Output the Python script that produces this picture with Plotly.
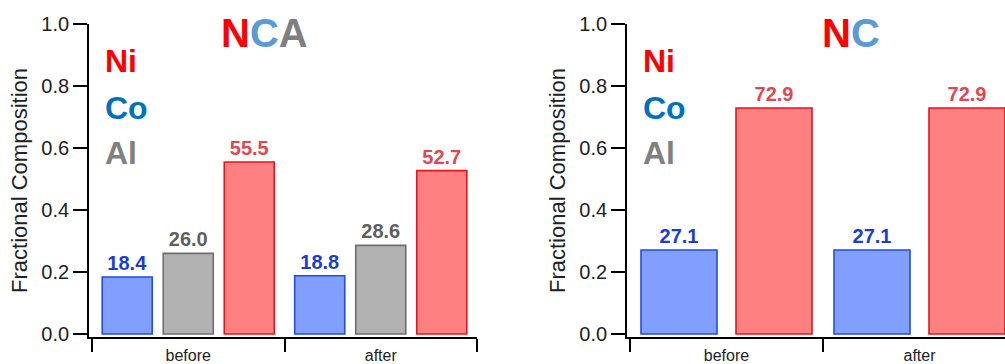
import plotly.graph_objects as go
from plotly.subplots import make_subplots

# ---- data -------------------------------------------------------------
stages = ["before", "after"]

nca_co = [18.4, 18.8]
nca_al = [26.0, 28.6]
nca_ni = [55.5, 52.7]

nc_co = [27.1, 27.1]
nc_ni = [72.9, 72.9]

y_ticks = [0.0, 0.2, 0.4, 0.6, 0.8, 1.0]

# ---- styling ----------------------------------------------------------
W, H = 1005, 364
FONT = "Liberation Sans, Arial, sans-serif"

STYLE = {
    "Co": dict(fill="rgb(128,159,255)", edge="rgb(35,75,230)", text="rgb(25,60,215)"),
    "Al": dict(fill="rgb(178,178,178)", edge="rgb(110,110,110)", text="rgb(95,95,95)"),
    "Ni": dict(fill="rgb(255,128,128)", edge="rgb(230,20,30)", text="rgb(228,70,80)"),
}


def px_x(p):
    return p / W


def px_y(p):
    return 1 - p / H


def bar(name, values):
    s = STYLE[name]
    return go.Bar(
        x=stages,
        y=[v / 100 for v in values],
        text=[f"{v:.1f}" for v in values],
        textposition="outside",
        constraintext="none",
        cliponaxis=False,
        textfont=dict(family=FONT, size=20, color=s["text"], weight="bold"),
        marker=dict(color=s["fill"], line=dict(color=s["edge"], width=1.6)),
        name=name,
        showlegend=False,
        hoverinfo="skip",
    )


fig = make_subplots(rows=1, cols=2)

for name, vals in [("Co", nca_co), ("Al", nca_al), ("Ni", nca_ni)]:
    fig.add_trace(bar(name, vals), row=1, col=1)
for name, vals in [("Co", nc_co), ("Ni", nc_ni)]:
    fig.add_trace(bar(name, vals), row=1, col=2)

# plot areas (pixel extents of the axes)
top_px, bottom_px = 24, 337
left_panel = (89, 477)
right_panel = (627, 1005)

axis_common = dict(
    showline=True, linecolor="black", linewidth=1.8, mirror=False,
    ticks="outside", tickcolor="black", tickwidth=1.6,
    showgrid=False, zeroline=False, automargin=False,
)

for i, (x0, x1), cat_w in [(1, left_panel, 192.5), (2, right_panel, 193.0)]:
    xa = "xaxis" if i == 1 else "xaxis2"
    ya = "yaxis" if i == 1 else "yaxis2"
    left_range = -0.5 - 3 / cat_w
    right_range = 1.5 if i == 1 else 0.5 + (x1 - (x0 + 3 + cat_w)) / cat_w
    fig.update_layout(**{
        xa: dict(
            domain=[px_x(x0), px_x(x1)],
            type="category",
            range=[left_range, right_range],
            tickson="boundaries",
            ticklen=13,
            ticklabelstandoff=3,
            tickfont=dict(family=FONT, size=16, color="#222"),
            **axis_common,
        ),
        ya: dict(
            domain=[px_y(bottom_px), px_y(top_px)],
            range=[-0.0097, 1.0],
            tickvals=y_ticks,
            ticktext=[f"{t:.1f}" for t in y_ticks],
            ticklen=14,
            tickfont=dict(family=FONT, size=20, color="#222"),
            title=dict(text="Fractional Composition",
                       font=dict(family=FONT, size=22, color="#222"),
                       standoff=8),
            **axis_common,
        ),
    })

fig.update_layout(bargap=0.049, bargroupgap=0.18, barmode="group")
# right panel: two wider bars per stage
cat_r = 193.0
slot = 95 / cat_r
bw = 76 / cat_r
for k, tr in enumerate(fig.data[3:]):
    tr.width = bw
    tr.offset = -slot + (slot - bw) / 2 + k * slot

# ---- panel titles and element keys -----------------------------------
RED, LBLUE, GREY = "#ff0000", "#5b9bd5", "#7f7f7f"
CO_BLUE, AL_GREY = "#0070c0", "#808080"


def rich(parts):
    return "".join(f"<span style='color:{c}'>{t}</span>" for t, c in parts)


annotations = [
    dict(x=px_x(264), y=px_y(33), text=rich([("N", RED), ("C", LBLUE), ("A", GREY)])),
    dict(x=px_x(851), y=px_y(33), text=rich([("N", RED), ("C", LBLUE)])),
]
for a in annotations:
    a.update(xref="paper", yref="paper", showarrow=False, xanchor="center",
             yanchor="middle", font=dict(family=FONT, size=40, weight="bold"))

for x_left in (103, 641):
    for label, color, yc in [("Ni", RED, 61), ("Co", CO_BLUE, 108), ("Al", AL_GREY, 153)]:
        annotations.append(dict(
            x=px_x(x_left), y=px_y(yc), xref="paper", yref="paper",
            text=label, showarrow=False, xanchor="left", yanchor="middle",
            font=dict(family=FONT, size=32, color=color, weight="bold"),
        ))

fig.update_layout(
    annotations=annotations,
    width=W, height=H,
    margin=dict(l=0, r=0, t=0, b=0),
    paper_bgcolor="white", plot_bgcolor="white",
)

fig.write_html("out.html")
